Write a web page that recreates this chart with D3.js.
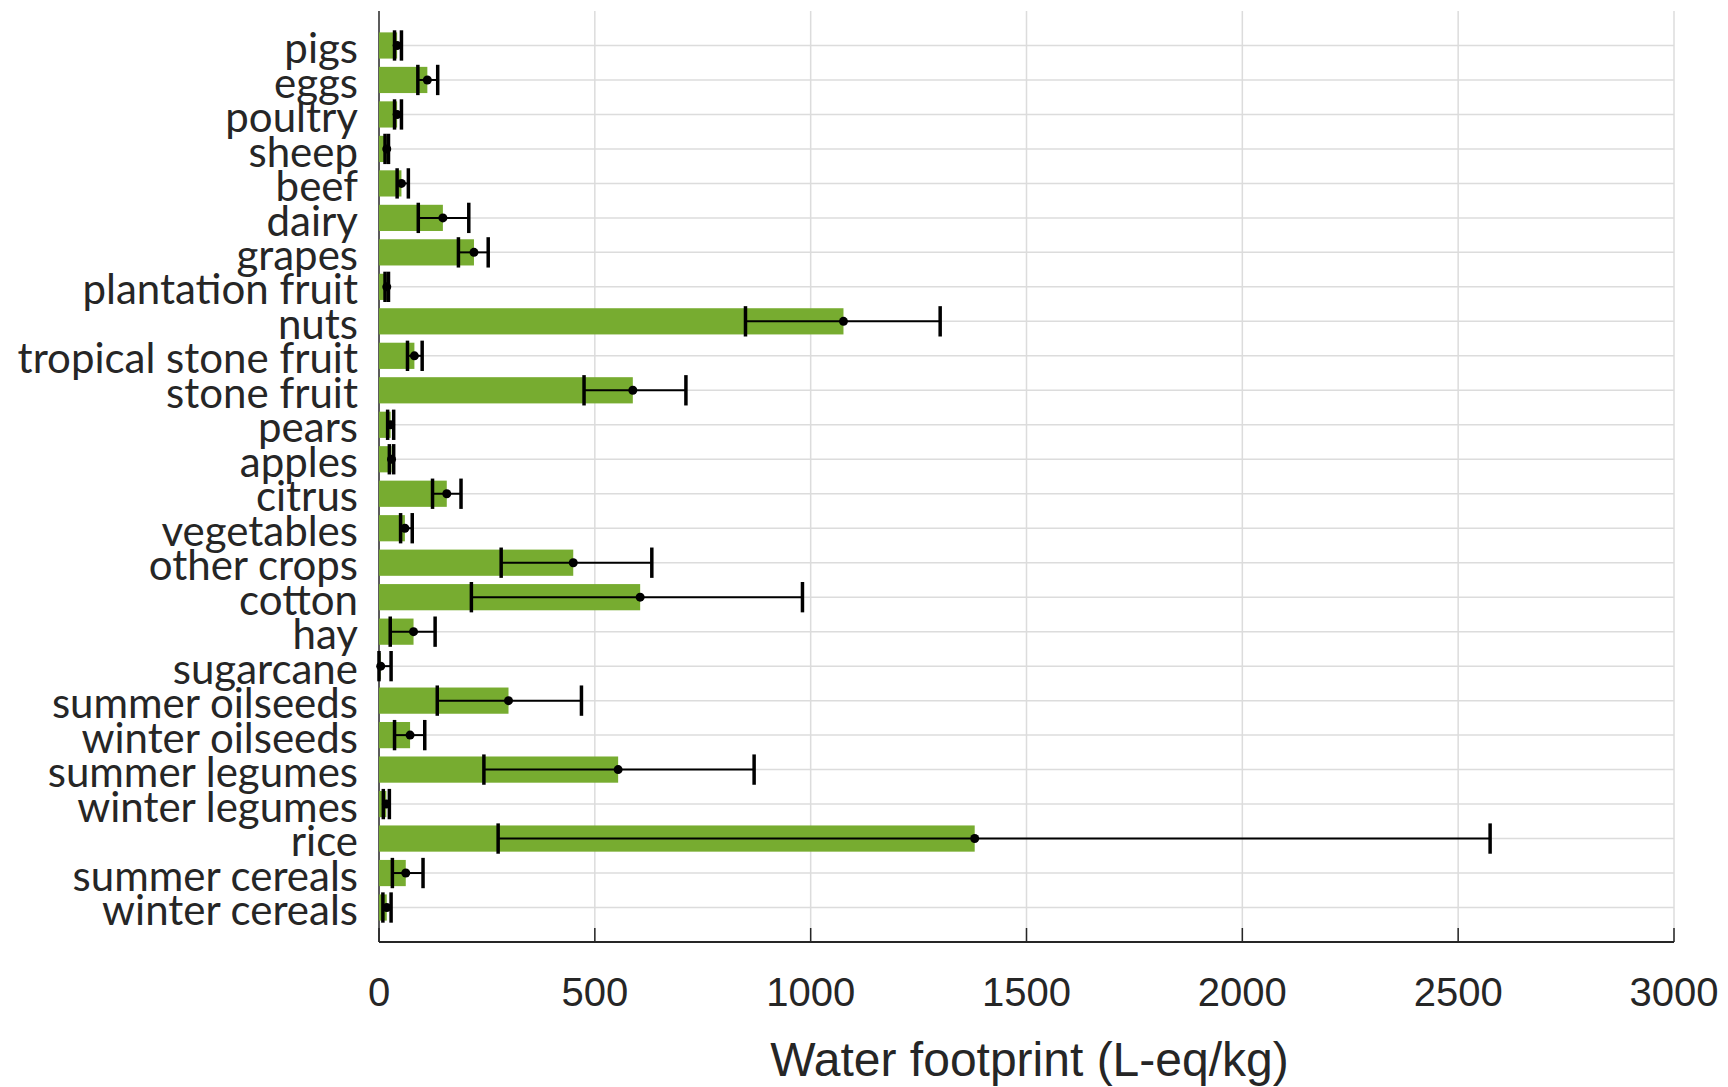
<!DOCTYPE html>
<html>
<head>
<meta charset="utf-8">
<script src="https://cdn.jsdelivr.net/npm/d3@7"></script>
<style>
  body { margin: 0; background: #fff; }
  .grid line { stroke: #dcdcdc; stroke-width: 1.5; }
  .ylab { font-family: Lato, sans-serif; fill: #262626; }
  .tick-label { font-family: "Liberation Sans", Arial, sans-serif; fill: #262626; }
</style>
</head>
<body>
<div class="chartDiv"></div>
<script>
'use strict';

// top to bottom, as shown
var categories = ['pigs', 'eggs', 'poultry', 'sheep', 'beef', 'dairy', 'grapes',
  'plantation fruit', 'nuts', 'tropical stone fruit', 'stone fruit', 'pears', 'apples',
  'citrus', 'vegetables', 'other crops', 'cotton', 'hay', 'sugarcane', 'summer oilseeds',
  'winter oilseeds', 'summer legumes', 'winter legumes', 'rice', 'summer cereals', 'winter cereals'];

var meanValues = [42, 112, 42, 18, 52, 148, 220, 18, 1076, 82, 588, 27, 29,
  157, 60, 450, 605, 80, 4, 300, 72, 554, 17, 1380, 62, 18];

var lowValues = [36, 90, 36, 14, 42, 91, 184, 14, 849, 66, 475, 20, 24,
  124, 50, 283, 214, 26, 0, 135, 36, 243, 10, 276, 31, 9];

var highValues = [52, 136, 52, 22, 68, 208, 253, 22, 1300, 100, 711, 34, 34,
  190, 77, 632, 981, 130, 28, 469, 106, 869, 24, 2574, 102, 28];

var xTicks = [0, 500, 1000, 1500, 2000, 2500, 3000];
var xLabel = 'Water footprint (L-eq/kg)';

var width = 1728, height = 1087;
var margin = { top: 11, right: 54, bottom: 145, left: 379 };

var svg = d3.select('.chartDiv').append('svg')
  .attr('width', width)
  .attr('height', height);

var x = d3.scaleLinear()
  .domain([0, 3000])
  .range([margin.left, width - margin.right]);

var y = d3.scaleLinear()
  .domain([0, categories.length + 1])
  .range([height - margin.bottom, margin.top]);

var rows = categories.map(function(c, i) {
  return { name: c, pos: categories.length - i, mean: meanValues[i], lo: lowValues[i], hi: highValues[i] };
});

var barH = Math.abs(y(0) - y(0.76));
var capH = Math.abs(y(0) - y(0.88));

// grid
var grid = svg.append('g').attr('class', 'grid');
grid.selectAll('.hgrid')
  .data(rows)
  .enter().append('line')
    .attr('x1', x(0)).attr('x2', x(3000))
    .attr('y1', function(d) { return y(d.pos); })
    .attr('y2', function(d) { return y(d.pos); });
grid.selectAll('.vgrid')
  .data(xTicks.slice(1))
  .enter().append('line')
    .attr('x1', function(d) { return x(d); })
    .attr('x2', function(d) { return x(d); })
    .attr('y1', y(0)).attr('y2', y(categories.length + 1));

// axes lines
svg.append('line')
  .attr('x1', x(0)).attr('x2', x(0))
  .attr('y1', y(0)).attr('y2', y(categories.length + 1))
  .attr('stroke', '#262626').attr('stroke-width', 1.5);
svg.append('line')
  .attr('x1', x(0)).attr('x2', x(3000))
  .attr('y1', y(0)).attr('y2', y(0))
  .attr('stroke', '#262626').attr('stroke-width', 2);

svg.selectAll('.xtick')
  .data(xTicks)
  .enter().append('line')
    .attr('x1', function(d) { return x(d); })
    .attr('x2', function(d) { return x(d); })
    .attr('y1', y(0)).attr('y2', y(0) - 14)
    .attr('stroke', '#262626').attr('stroke-width', 1.5);

svg.selectAll('.xtl')
  .data(xTicks)
  .enter().append('text')
    .attr('class', 'tick-label')
    .attr('x', function(d) { return x(d); })
    .attr('y', y(0) + 64)
    .attr('text-anchor', 'middle')
    .style('font-size', '40px')
    .text(function(d) { return d; });

svg.append('text')
  .attr('class', 'tick-label')
  .attr('x', (x(0) + x(3000)) / 2 + 3)
  .attr('y', height - 11)
  .attr('text-anchor', 'middle')
  .style('font-size', '48px')
  .text(xLabel);

// bars
svg.selectAll('.bar')
  .data(rows)
  .enter().append('rect')
    .attr('x', x(0))
    .attr('y', function(d) { return y(d.pos) - barH / 2; })
    .attr('width', function(d) { return x(d.mean) - x(0); })
    .attr('height', barH)
    .attr('fill', '#77ac30');

// error bars
var err = svg.selectAll('.err')
  .data(rows)
  .enter().append('g')
    .attr('transform', function(d) { return 'translate(0,' + y(d.pos) + ')'; });

err.append('line')
  .attr('x1', function(d) { return x(d.lo); })
  .attr('x2', function(d) { return x(d.hi); })
  .attr('stroke', '#000').attr('stroke-width', 2);

err.append('line')
  .attr('x1', function(d) { return x(d.lo); })
  .attr('x2', function(d) { return x(d.lo); })
  .attr('y1', -capH / 2).attr('y2', capH / 2)
  .attr('stroke', '#000').attr('stroke-width', 3.5);

err.append('line')
  .attr('x1', function(d) { return x(d.hi); })
  .attr('x2', function(d) { return x(d.hi); })
  .attr('y1', -capH / 2).attr('y2', capH / 2)
  .attr('stroke', '#000').attr('stroke-width', 3.5);

err.append('circle')
  .attr('cx', function(d) { return x(d.mean); })
  .attr('r', 4.5)
  .attr('fill', '#000');

// category labels
svg.selectAll('.ylab')
  .data(rows)
  .enter().append('text')
    .attr('class', 'ylab')
    .attr('x', x(0) - 21)
    .attr('y', function(d) { return y(d.pos); })
    .attr('dy', '0.42em')
    .attr('text-anchor', 'end')
    .style('font-size', '42px')
    .text(function(d) { return d.name; });
</script>
</body>
</html>
